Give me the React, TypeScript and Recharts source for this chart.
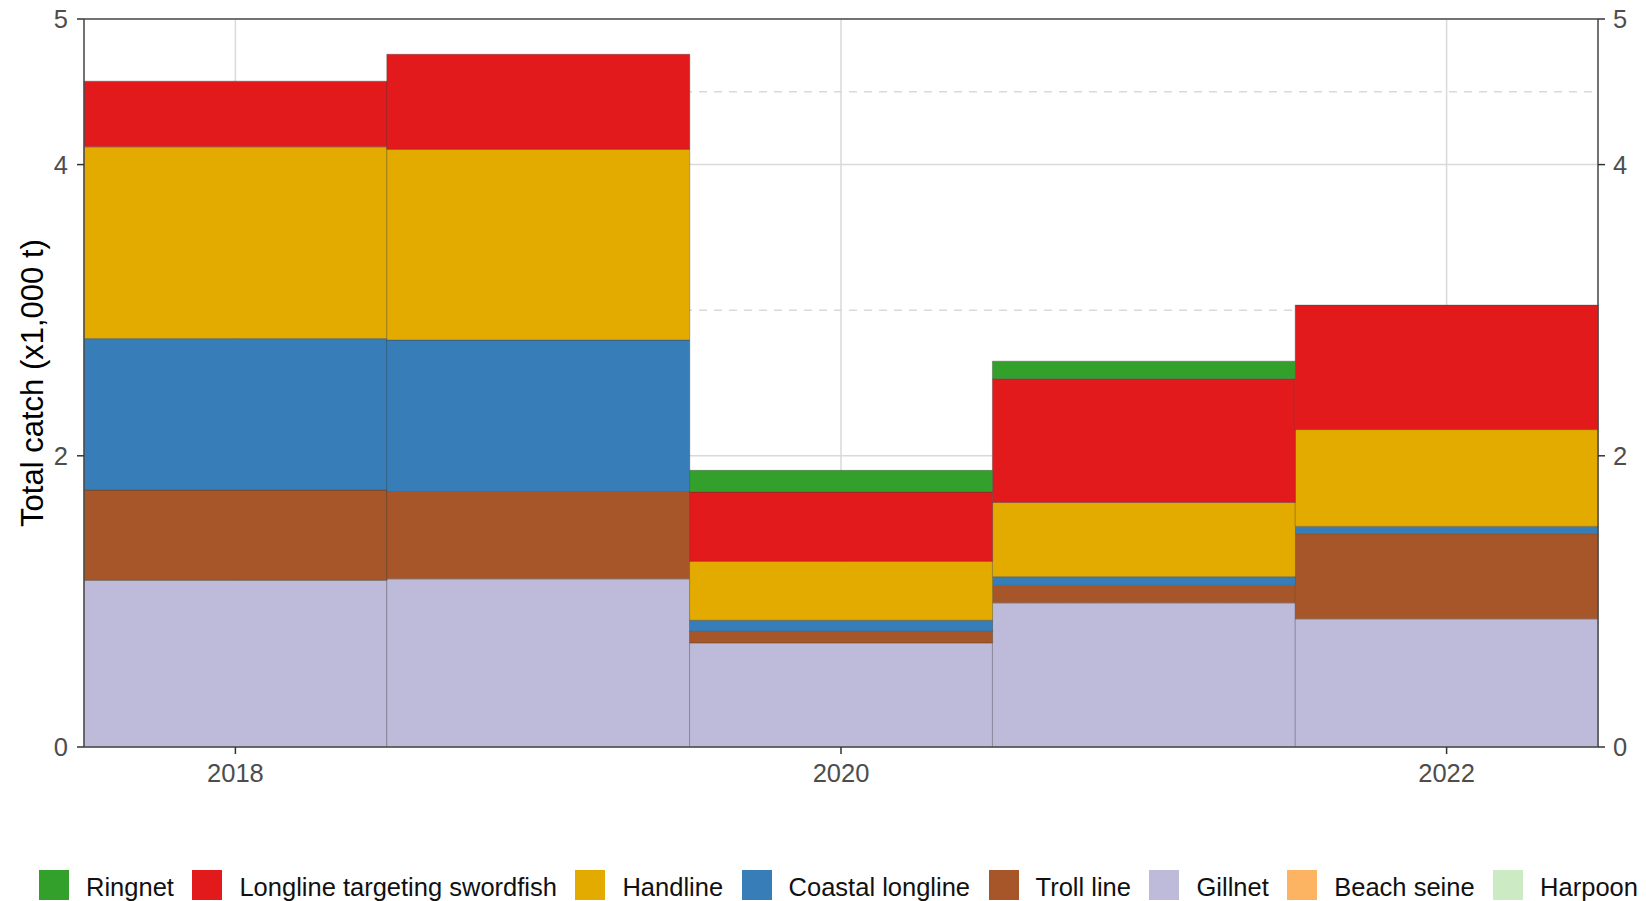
import { BarChart, Bar, XAxis, YAxis, CartesianGrid, Legend, ReferenceLine } from 'recharts';

// catch by gear, thousand tonnes
const years = ['2018', '2019', '2020', '2021', '2022'];
const gillnet = [1.145, 1.155, 0.715, 0.99, 0.88];
const trollLine = [0.62, 0.6, 0.08, 0.12, 0.585];
const coastalLongline = [1.04, 1.04, 0.075, 0.06, 0.05];
const handline = [1.317, 1.31, 0.405, 0.51, 0.665];
const longlineSwordfish = [0.451, 0.653, 0.476, 0.85, 0.855];
const ringnet = [0, 0, 0.149, 0.12, 0];
const beachSeine = [0, 0, 0, 0, 0];
const harpoon = [0, 0, 0, 0, 0];

const yTicks = [0, 2, 4, 5];
const yMinorTicks = [1, 3, 4.5];

// stacking order, bottom first
const series = [
    { key: 'harpoon', name: 'Harpoon', color: '#ccebc5', values: harpoon },
    { key: 'beachSeine', name: 'Beach seine', color: '#fdb462', values: beachSeine },
    { key: 'gillnet', name: 'Gillnet', color: '#bebada', values: gillnet },
    { key: 'trollLine', name: 'Troll line', color: '#a65628', values: trollLine },
    { key: 'coastalLongline', name: 'Coastal longline', color: '#377eb8', values: coastalLongline },
    { key: 'handline', name: 'Handline', color: '#e3ab00', values: handline },
    { key: 'longlineSwordfish', name: 'Longline targeting swordfish', color: '#e31a1c', values: longlineSwordfish },
    { key: 'ringnet', name: 'Ringnet', color: '#33a02c', values: ringnet },
];

const legendOrder = [
    'ringnet', 'longlineSwordfish', 'handline', 'coastalLongline',
    'trollLine', 'gillnet', 'beachSeine', 'harpoon',
];

const chartData = years.map((year, i) => {
    const row: Record<string, any> = { year };
    series.forEach((s) => { row[s.key] = s.values[i]; });
    return row;
});

const FONT = '"Liberation Sans", Arial, sans-serif';
const AXIS = '#4d4d4d';

function GearLegend() {
    return (
        <div style={{ display: 'flex', height: 31, paddingLeft: 39, fontFamily: FONT, whiteSpace: 'nowrap' }}>
            {legendOrder.map((k) => {
                const s = series.find((x) => x.key === k)!;
                return (
                    <div key={k} style={{ display: 'flex', alignItems: 'flex-start', marginRight: 18.5 }}>
                        <span style={{ display: 'inline-block', width: 30, height: 30, background: s.color, marginRight: 17 }} />
                        <span style={{ fontSize: 25.5, lineHeight: '31px', paddingTop: 2, color: '#111' }}>{s.name}</span>
                    </div>
                );
            })}
        </div>
    );
}

export default function App() {
    const tickStyle = { fill: AXIS, fontSize: 25.5, fontFamily: FONT };
    return (
        <div style={{ position: 'absolute', left: 0, top: 0, width: 1646, height: 901, background: '#fff', overflow: 'hidden' }}>
            <BarChart
                width={1646}
                height={901}
                data={chartData}
                margin={{ top: 19, right: 0, left: 0, bottom: 0 }}
                barCategoryGap={0}
                barGap={0}
            >
                {/* minor breaks, dashed */}
                <CartesianGrid
                    yAxisId="left"
                    vertical={false}
                    horizontalValues={yMinorTicks}
                    stroke="#d9d9d9"
                    strokeWidth={1.5}
                    strokeDasharray="8 7"
                />
                <CartesianGrid yAxisId="left" stroke="#d9d9d9" strokeWidth={1.5} />
                <XAxis
                    dataKey="year"
                    interval={1}
                    height={123}
                    tickSize={7}
                    tickMargin={10}
                    tick={tickStyle}
                    axisLine={{ stroke: AXIS, strokeWidth: 1.5 }}
                    tickLine={{ stroke: '#333', strokeWidth: 1.5 }}
                />
                <YAxis
                    yAxisId="left"
                    type="number"
                    domain={[0, 5]}
                    ticks={yTicks}
                    width={84}
                    tickSize={7}
                    tickMargin={9}
                    tick={tickStyle}
                    axisLine={{ stroke: AXIS, strokeWidth: 1.5 }}
                    tickLine={{ stroke: '#333', strokeWidth: 1.5 }}
                    label={{
                        value: 'Total catch (x1,000 t)',
                        angle: -90,
                        position: 'center',
                        dx: -10.5,
                        style: { fill: '#000', fontSize: 31, fontFamily: FONT },
                    }}
                />
                <YAxis
                    yAxisId="right"
                    orientation="right"
                    type="number"
                    domain={[0, 5]}
                    allowDataOverflow
                    ticks={yTicks}
                    width={48}
                    tickSize={7}
                    tickMargin={8}
                    tick={tickStyle}
                    axisLine={{ stroke: AXIS, strokeWidth: 1.5 }}
                    tickLine={{ stroke: '#333', strokeWidth: 1.5 }}
                />
                <Legend verticalAlign="bottom" align="left" content={() => <GearLegend />} />
                {series.map((s) => (
                    <Bar
                        key={s.key}
                        yAxisId="left"
                        dataKey={s.key}
                        name={s.name}
                        stackId="gear"
                        fill={s.color}
                        stroke="rgba(60,60,60,0.35)"
                        strokeWidth={1}
                        isAnimationActive={false}
                    />
                ))}
                <ReferenceLine yAxisId="left" y={5} stroke={AXIS} strokeWidth={1.5} />
            </BarChart>
        </div>
    );
}
